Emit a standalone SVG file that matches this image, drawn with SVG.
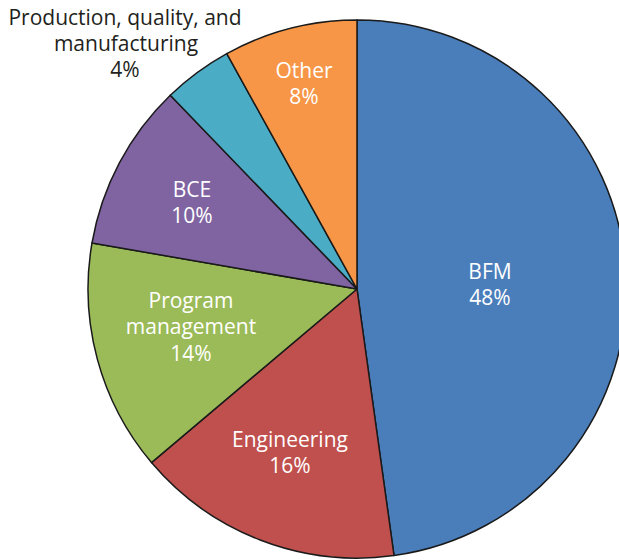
<svg xmlns="http://www.w3.org/2000/svg" width="619" height="560" viewBox="0 0 619 560">
<style>
.s{stroke:#1a1a1a;stroke-width:1.5;stroke-linejoin:round}
.t{font-family:"Open Sans","Noto Sans",sans-serif;font-size:21px;text-anchor:middle;fill:#ffffff}
.k{fill:#231f20}
</style>
<rect width="619" height="560" fill="#ffffff"/>
<g id="bfm">
<path class="s" fill="#4a7ebb" d="M357,289 L357,20 A269,269 0 0 1 394,555.5 Z"/>
<text class="t" x="490" y="279">BFM</text>
<text class="t" x="490" y="305">48%</text>
</g>
<g id="engineering">
<path class="s" fill="#c0504d" d="M357,289 L394,555.5 A269,269 0 0 1 151.5,462.6 Z"/>
<text class="t" x="290" y="447">Engineering</text>
<text class="t" x="290" y="473">16%</text>
</g>
<g id="program">
<path class="s" fill="#9bbb59" d="M357,289 L151.5,462.6 A269,269 0 0 1 92,243 Z"/>
<text class="t" x="191" y="308">Program</text>
<text class="t" x="191" y="334">management</text>
<text class="t" x="191" y="361">14%</text>
</g>
<g id="bce">
<path class="s" fill="#8064a2" d="M357,289 L92,243 A269,269 0 0 1 170.3,95.3 Z"/>
<text class="t" x="192" y="197">BCE</text>
<text class="t" x="192" y="223">10%</text>
</g>
<g id="production">
<path class="s" fill="#4bacc6" d="M357,289 L170.3,95.3 A269,269 0 0 1 226.8,53.65 Z"/>
<text class="t k" x="125" y="25">Production, quality, and</text>
<text class="t k" x="126" y="51">manufacturing</text>
<text class="t k" x="125" y="77">4%</text>
</g>
<g id="other">
<path class="s" fill="#f79646" d="M357,289 L226.8,53.65 A269,269 0 0 1 357,20 Z"/>
<text class="t" x="304" y="78">Other</text>
<text class="t" x="304" y="104">8%</text>
</g>
<g id="connectors"/>
</svg>
